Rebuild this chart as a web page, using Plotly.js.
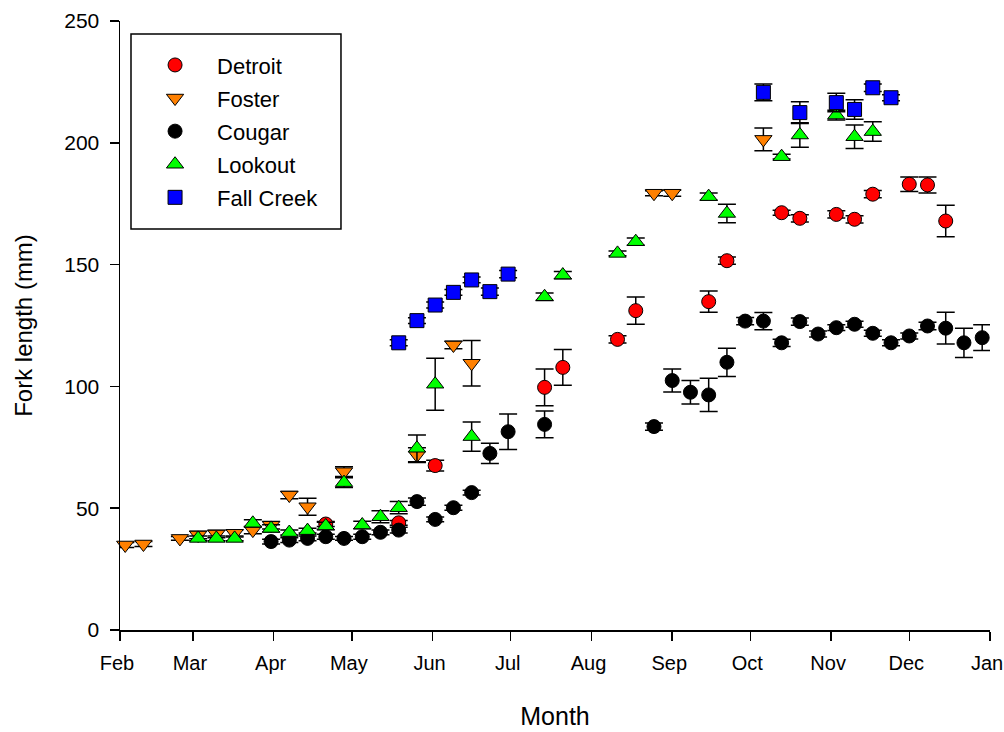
<!DOCTYPE html>
<html>
<head>
<meta charset="utf-8">
<script src="https://cdn.plot.ly/plotly-3.0.1.min.js"></script>
<style>html,body{margin:0;padding:0;background:#fff;}#chart{width:1004px;height:732px;}</style>
</head>
<body>
<div id="chart"></div>
<script>
// x values: days after 1 February
const monthStarts = [0, 28, 59, 89, 120, 150, 181, 212, 242, 273, 303, 334];
const monthLabels = ["Feb", "Mar", "Apr", "May", "Jun", "Jul", "Aug", "Sep", "Oct", "Nov", "Dec", "Jan"];

const detroitDay = [79, 107, 121, 163, 170, 191, 198, 226, 233, 254, 261, 275, 282, 289, 303, 310, 317];
const detroitLen = [43.5, 44.0, 67.5, 99.6, 107.8, 119.3, 131.1, 134.8, 151.6, 171.3, 169.0, 170.6, 168.6, 178.9, 183.0, 182.7, 167.9];
const detroitErr = [1.0, 1.0, 2.2, 7.5, 7.3, 1.5, 5.6, 4.4, 1.5, 1.0, 1.5, 1.5, 1.5, 1.5, 3.0, 3.3, 6.5];

const fosterDay = [2, 9, 23, 30, 37, 44, 51, 58, 65, 72, 86, 114, 128, 135, 205, 212, 247];
const fosterLen = [34.9, 35.3, 37.6, 39.0, 39.4, 39.7, 41.0, 43.0, 55.4, 50.6, 65.0, 71.8, 117.0, 109.5, 179.3, 179.3, 201.4];
const fosterErr = [1.0, 1.0, 0.8, 1.5, 1.5, 1.5, 1.5, 1.5, 1.5, 3.5, 2.0, 3.0, 1.5, 9.3, 1.0, 1.2, 4.7];

const cougarDay = [58, 65, 72, 79, 86, 93, 100, 107, 114, 121, 128, 135, 142, 149, 163, 205, 212, 219, 226, 233, 240, 247, 254, 261, 268, 275, 282, 289, 296, 303, 310, 317, 324, 331];
const cougarLen = [36.3, 36.9, 37.6, 38.3, 37.6, 38.3, 40.1, 41.0, 52.7, 45.4, 50.2, 56.4, 72.5, 81.4, 84.4, 83.5, 102.4, 97.6, 96.5, 109.9, 126.8, 126.8, 117.9, 126.6, 121.5, 124.1, 125.5, 121.8, 117.9, 120.7, 124.8, 123.9, 117.9, 120.0];
const cougarErr = [1.0, 1.0, 1.0, 1.0, 0.8, 1.0, 1.0, 1.2, 1.5, 1.0, 1.0, 1.0, 4.2, 7.3, 5.5, 1.5, 4.7, 4.8, 6.8, 5.8, 1.5, 3.5, 1.5, 1.5, 1.2, 1.2, 1.2, 1.2, 1.2, 1.2, 1.5, 6.5, 6.0, 5.3];

const lookoutDay = [30, 37, 44, 51, 58, 65, 72, 79, 86, 93, 100, 107, 114, 121, 135, 163, 170, 191, 198, 226, 233, 254, 261, 275, 282, 289];
const lookoutLen = [37.6, 37.6, 37.6, 43.8, 41.7, 40.0, 40.8, 42.7, 60.5, 43.1, 46.5, 50.2, 74.6, 100.9, 79.4, 136.8, 145.7, 154.6, 159.4, 177.9, 171.0, 194.3, 203.2, 211.4, 202.5, 204.6];
const lookoutErr = [1.0, 1.0, 1.0, 1.5, 1.5, 1.0, 1.0, 1.5, 2.0, 1.5, 2.5, 2.5, 5.5, 10.7, 6.0, 1.5, 1.5, 1.0, 1.5, 1.5, 3.8, 1.0, 5.0, 2.0, 4.8, 4.0];

const fallDay = [107, 114, 121, 128, 135, 142, 149, 247, 261, 275, 282, 289, 296];
const fallLen = [117.9, 127.0, 133.4, 138.6, 143.7, 138.9, 146.1, 220.7, 212.4, 216.5, 213.7, 222.6, 218.5];
const fallErr = [1.2, 1.2, 1.2, 1.2, 1.2, 1.5, 1.5, 3.4, 4.5, 3.8, 4.0, 1.5, 1.2];

const FONT = "Liberation Sans, Arial, Helvetica, sans-serif";

function series(name, x, y, e, symbol, color, size, group) {
  return {
    type: "scatter", mode: "markers", name: name, x: x, y: y,
    legendgroup: group,
    marker: {symbol: symbol, color: color, size: size, line: {color: "#000", width: 1}},
    error_y: {type: "data", array: e, visible: true, color: "#000", thickness: 1.5, width: 9},
    cliponaxis: false
  };
}

const data = [
  series("Detroit", detroitDay, detroitLen, detroitErr, "circle", "#ff0000", 14, "g1"),
  series("Foster", fosterDay, fosterLen, fosterErr, "triangle-down", "#ff8000", 15, "g2"),
  series("Cougar", cougarDay, cougarLen, cougarErr, "circle", "#000000", 14, "g3"),
  series("Lookout", lookoutDay, lookoutLen, lookoutErr, "triangle-up", "#00ff00", 15, "g4"),
  series("Fall Creek", fallDay, fallLen, fallErr, "square", "#0000ff", 14, "g5")
];

const axisCommon = {
  showline: true, linecolor: "#000", linewidth: 1.5,
  ticks: "outside", ticklen: 9, tickwidth: 1.5, tickcolor: "#000",
  showgrid: false, zeroline: false,
  ticklabeloverflow: "allow"
};

const layout = {
  width: 1004, height: 732,
  margin: {l: 120, r: 14, t: 21, b: 102},
  paper_bgcolor: "#fff", plot_bgcolor: "#fff",
  font: {family: FONT, color: "#000"},
  showlegend: true,
  xaxis: Object.assign({}, axisCommon, {
    range: [0, 334], tickmode: "array", tickvals: monthStarts, ticktext: monthLabels,
    ticklabelstandoff: 5, ticklabelshift: -3,
    tickfont: {family: FONT, size: 20, color: "#000"},
    title: {text: "Month", font: {family: FONT, size: 25, color: "#000"}, standoff: 35}
  }),
  yaxis: Object.assign({}, axisCommon, {
    range: [0, 250], tickmode: "linear", tick0: 0, dtick: 50,
    ticklabelstandoff: 6,
    tickfont: {family: FONT, size: 21, color: "#000"},
    title: {text: "Fork length (mm)", font: {family: FONT, size: 24, color: "#000"}, standoff: 25}
  }),
  legend: {
    x: 0.015, y: 0.962, xanchor: "left", yanchor: "top",
    bgcolor: "rgba(0,0,0,0)", borderwidth: 0,
    font: {family: FONT, size: 22, color: "#000"},
    itemwidth: 74, tracegroupgap: 1.5, traceorder: "grouped"
  },
  shapes: [{
    type: "rect", xref: "paper", yref: "paper",
    x0: 0.01264, x1: 0.254, y0: 0.6585, y1: 0.9787,
    line: {color: "#000", width: 1.5}, fillcolor: "#fff", layer: "below"
  }]
};

Plotly.newPlot("chart", data, layout, {staticPlot: true, displayModeBar: false});
</script>
</body>
</html>
